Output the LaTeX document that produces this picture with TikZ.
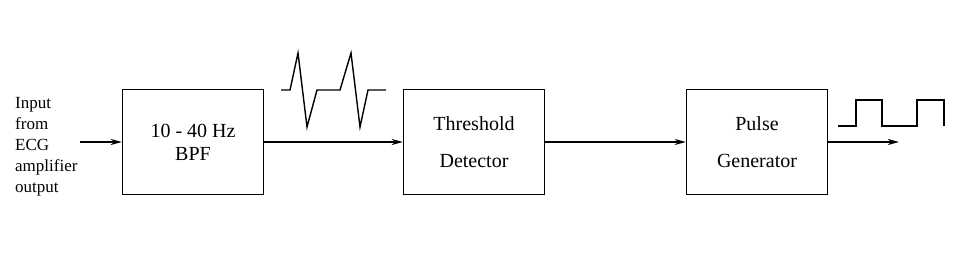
\documentclass[tikz,border=0pt]{standalone}
\usepackage{fontspec}
\setmainfont{Liberation Serif}
\usetikzlibrary{arrows.meta}

\begin{document}
\begin{tikzpicture}[>={Stealth[length=11pt, width=6pt, inset=3pt]}, x=1pt, y=-1pt,
    block/.style={draw, line width=1.4pt, minimum width=141pt,
                  minimum height=105pt, align=center,
                  font=\fontsize{20}{37}\selectfont},
    sig/.style={line width=1.4pt}]
  \useasboundingbox (0,0) rectangle (957,256);

  % Blocks
  \node[block, font=\fontsize{20}{23}\selectfont] (bpf) at (193,142) {10 - 40 Hz\\BPF};
  \node[block] (thr) at (474,142) {Threshold\\Detector};
  \node[block] (pg) at (757,142) {Pulse\\Generator};

  % Input text and free ends
  \node[font=\fontsize{17}{21}\selectfont, align=left, inner sep=0,
        anchor=north west] (inp) at (15,97) {Input\\from\\ECG\\amplifier\\output};
  \coordinate (in) at (80,142);
  \coordinate (out) at (899,142);

  % Connectors
  \draw[->, sig] (in) -- (bpf);
  \draw[->, sig] (bpf) -- (thr);
  \draw[->, sig] (thr) -- (pg);
  \draw[->, sig] (pg) -- (out);

  % Filtered ECG spikes
  \draw[sig] (281,90) -- (290,90) -- (298,53) -- (307,127) -- (317,90)
    -- (340,90) -- (351,53) -- (360,127) -- (368,90) -- (386,90);

  % Pulse train
  \draw[sig] (838,126) -- (856,126) -- (856,100) -- (882,100) -- (882,126)
    -- (917,126) -- (917,100) -- (944,100) -- (944,126);
\end{tikzpicture}
\end{document}
